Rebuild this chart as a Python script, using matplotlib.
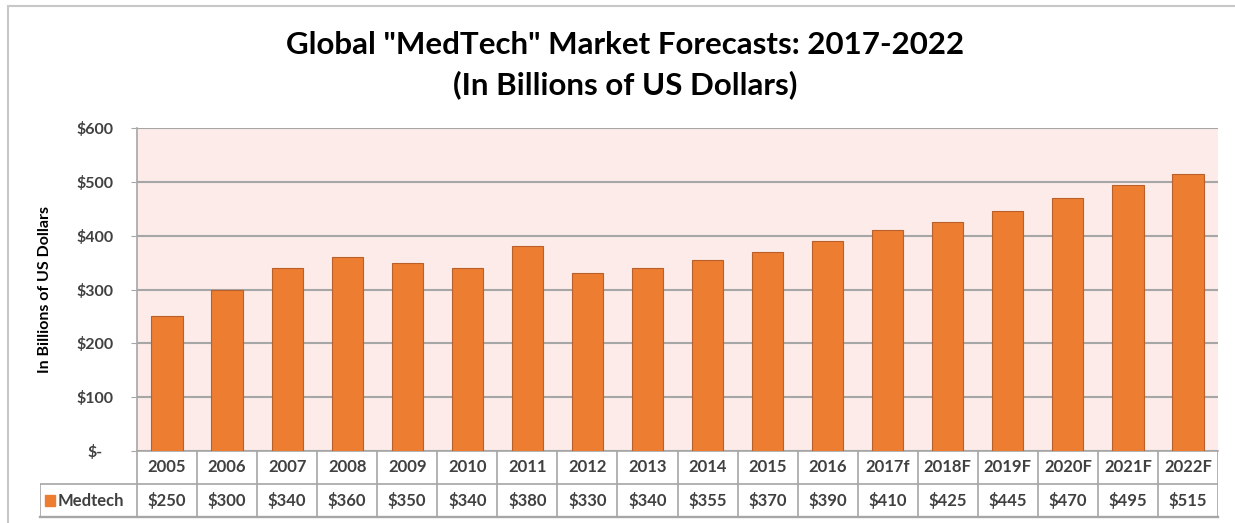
import matplotlib.pyplot as plt
from matplotlib.patches import Rectangle

# Global MedTech market, billions of US dollars
years = ["2005", "2006", "2007", "2008", "2009", "2010", "2011", "2012", "2013",
         "2014", "2015", "2016", "2017f", "2018F", "2019F", "2020F", "2021F", "2022F"]
medtech = [250, 300, 340, 360, 350, 340, 380, 330, 340,
           355, 370, 390, 410, 425, 445, 470, 495, 515]
yticks = [0, 100, 200, 300, 400, 500, 600]
ytick_labels = ["$-", "$100", "$200", "$300", "$400", "$500", "$600"]

W, H = 1235, 523
BAR = "#ED7D31"
EDGE = "#B9602A"
GRID = "#A6A6A6"
TXT = "#404040"
FONT = ["Lato", "DejaVu Sans"]

plt.rcParams["font.family"] = FONT

fig = plt.figure(figsize=(W / 100, H / 100), dpi=100)
fig.patch.set_facecolor("white")


def px_box(x0, y0, x1, y1):
    return [x0 / W, 1 - y1 / H, (x1 - x0) / W, (y1 - y0) / H]


# outer frame of the chart object
fig.add_artist(Rectangle((8 / W, -0.1), 1.2, 1 - 6 / H + 0.1, transform=fig.transFigure,
                         fill=False, edgecolor="#C8C8C8", linewidth=1.5))

ax = fig.add_axes(px_box(137, 128, 1218, 451))
ax.set_facecolor("#FCEBE8")
x = list(range(len(years)))
ax.bar(x, medtech, width=0.52, color=BAR, edgecolor=EDGE, linewidth=0.8, zorder=3)
ax.set_xlim(-0.5, len(years) - 0.5)
ax.set_ylim(0, 600)
ax.set_yticks(yticks)
ax.set_yticklabels(ytick_labels, fontsize=11.5, fontweight="bold", color=TXT)
ax.yaxis.grid(True, color=GRID, linewidth=1.5, zorder=1)
ax.set_axisbelow(True)
ax.set_xticks([])
for s in ["top", "right"]:
    ax.spines[s].set_visible(False)
ax.spines["left"].set_color(GRID)
ax.spines["bottom"].set_color(GRID)
ax.spines["left"].set_linewidth(1.2)
ax.spines["bottom"].set_linewidth(1.2)
ax.tick_params(axis="y", length=4, color=GRID, pad=26)
for lab in ax.get_yticklabels():
    lab.set_horizontalalignment("center")
ax.set_ylabel("In Billions of US Dollars", fontsize=11.5, fontweight="bold",
              color="black", labelpad=18)

# data table under the bars
col_w = (1218 - 137) / len(years)
left_x = -0.5 - (137 - 40) / col_w
tb = fig.add_axes(px_box(40, 451, 1218, 517))
tb.set_xlim(left_x, len(years) - 0.5)
tb.set_ylim(2, 0)
tb.axis("off")
lw = 1.2
tb.plot([left_x, len(years) - 0.5], [1, 1], color=GRID, lw=lw)
tb.plot([left_x, len(years) - 0.5], [2, 2], color=GRID, lw=lw * 1.4, clip_on=False)
tb.plot([left_x, left_x], [1, 2], color=GRID, lw=lw)
for i in range(len(years) + 1):
    tb.plot([i - 0.5, i - 0.5], [0, 2], color=GRID, lw=lw)
for i, (yr, v) in enumerate(zip(years, medtech)):
    tb.text(i, 0.5, yr, ha="center", va="center", fontsize=12,
            fontweight="bold", color=TXT)
    tb.text(i, 1.5, f"${v}", ha="center", va="center", fontsize=12,
            fontweight="bold", color=TXT)
tb.add_patch(Rectangle((left_x + 0.08, 1.33), 0.17, 0.34, color=BAR))
tb.text(left_x + 0.3, 1.5, "Medtech", ha="left", va="center", fontsize=12,
        fontweight="bold", color=TXT)

fig.text(625 / W, 1 - 45 / H, 'Global "MedTech" Market Forecasts: 2017-2022',
         ha="center", va="center", fontsize=22.5, fontweight="bold", color="black")
fig.text(625 / W, 1 - 85 / H, "(In Billions of US Dollars)",
         ha="center", va="center", fontsize=22.5, fontweight="bold", color="black")

fig.savefig("out.png", dpi=100)
